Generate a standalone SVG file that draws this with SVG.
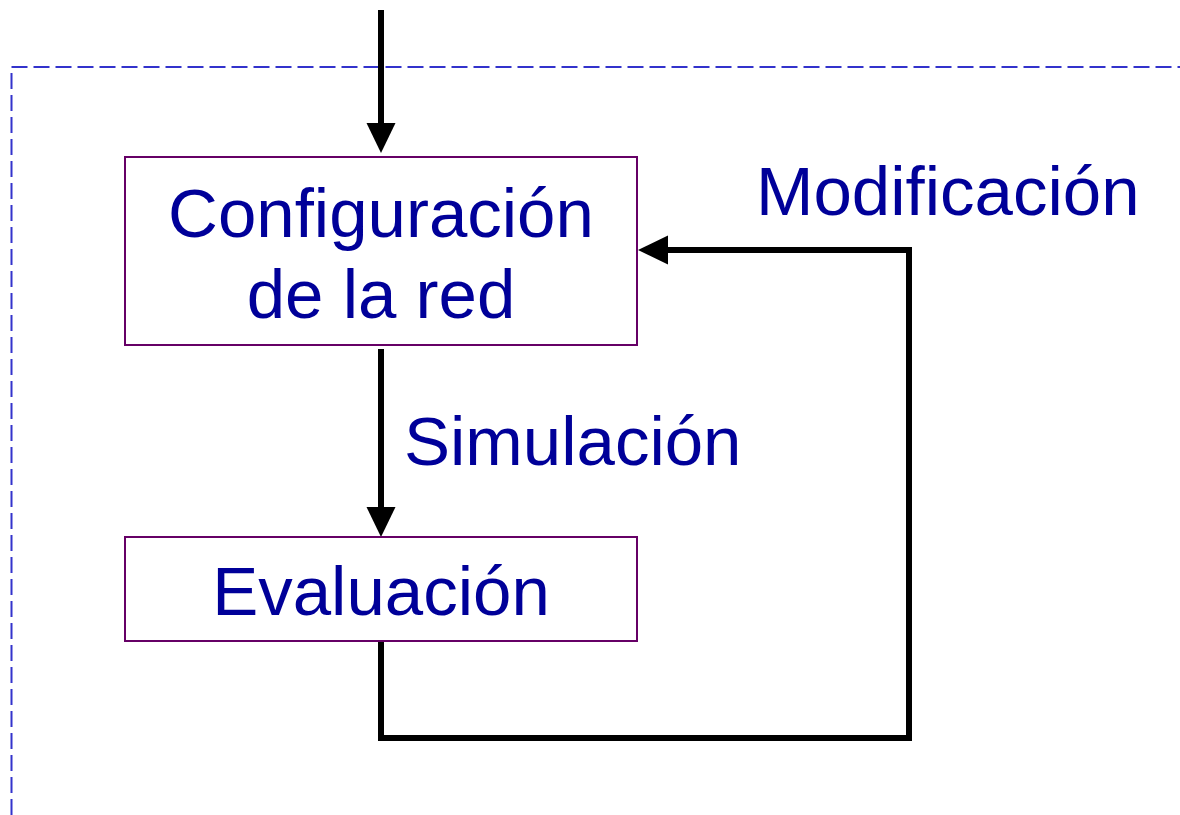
<svg xmlns="http://www.w3.org/2000/svg" width="1180" height="815" viewBox="0 0 1180 815">
<style>
.box{fill:#ffffff;stroke:#660066;stroke-width:2}
.lbl{font-family:"Liberation Sans",Arial,sans-serif;font-size:69px;fill:#000099;text-anchor:middle}
.lbl2{font-family:"Liberation Sans",Arial,sans-serif;font-size:69px;fill:#000099}
.wire{fill:none;stroke:#000000;stroke-width:6;stroke-linejoin:miter}
</style>
<defs>
<marker id="ah" markerUnits="userSpaceOnUse" viewBox="0 0 30 29" markerWidth="30" markerHeight="29" refX="1" refY="14.5" orient="auto" overflow="visible">
<path d="M0,0 L30,14.5 L0,29 Z" fill="#000000"/>
</marker>
</defs>
<rect x="0" y="0" width="1180" height="815" fill="#ffffff"/>
<path d="M11.5,815 L11.5,67 L1180,67" fill="none" stroke="#3333cc" stroke-width="2" stroke-dasharray="16,6"/>
<g id="connectors">
<line class="wire" x1="381" y1="10" x2="381" y2="124" marker-end="url(#ah)"/>
<line class="wire" x1="381" y1="349" x2="381" y2="508" marker-end="url(#ah)"/>
<polyline class="wire" points="381,641 381,738 909,738 909,250 667,250" marker-end="url(#ah)"/>
</g>
<g id="node-config">
<rect class="box" x="125" y="157" width="512" height="188"/>
<text class="lbl" x="381" y="237">Configuración</text>
<text class="lbl" x="381" y="318">de la red</text>
</g>
<g id="node-eval">
<rect class="box" x="125" y="537" width="512" height="104"/>
<text class="lbl" x="381" y="615">Evaluación</text>
</g>
<g id="label-sim">
<text class="lbl2" x="404" y="465">Simulación</text>
</g>
<g id="label-mod">
<text class="lbl2" x="756" y="215">Modificación</text>
</g>
</svg>
